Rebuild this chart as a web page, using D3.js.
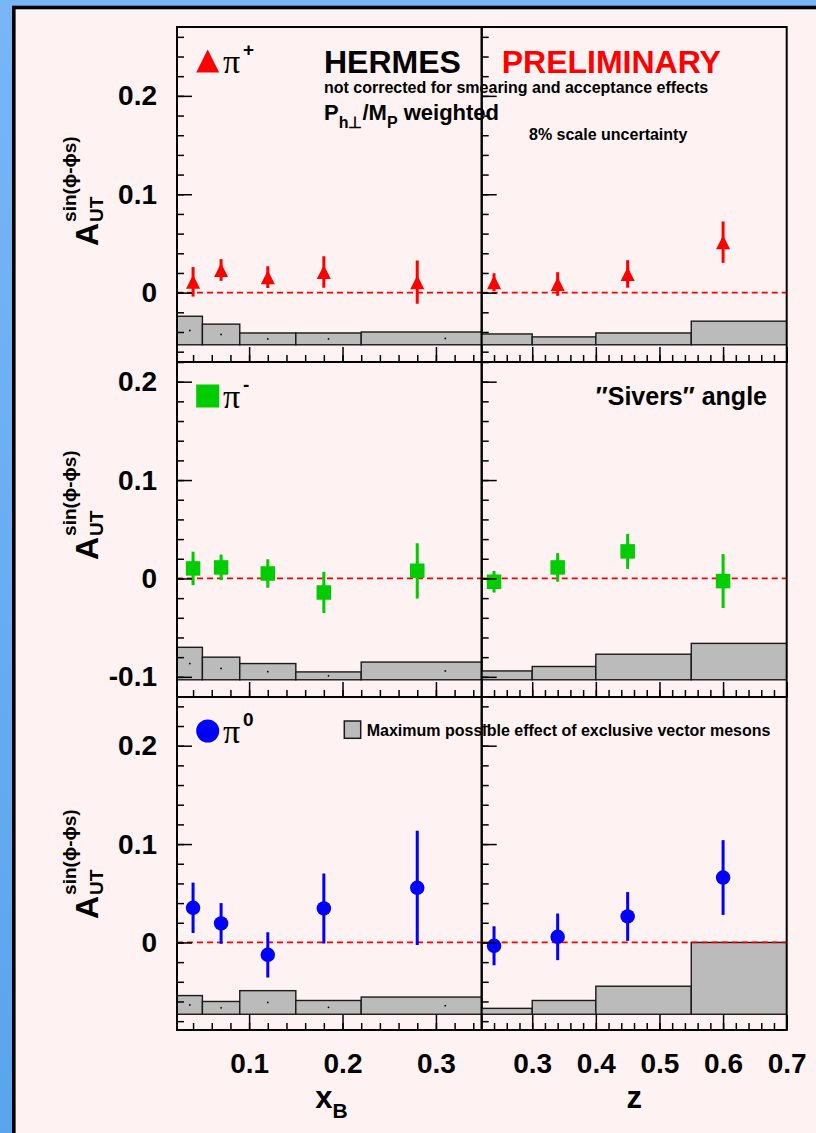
<!DOCTYPE html>
<html>
<head>
<meta charset="utf-8">
<script src="https://cdn.jsdelivr.net/npm/d3@7"></script>
<style>
  body { margin: 0; }
  svg { display: block; }
  text { font-family: "Liberation Sans", Arial, sans-serif; font-weight: bold; }
</style>
</head>
<body>
<div id="chart"></div>
<script>
// ---- data ----
const xbPoints = [0.04, 0.07, 0.12, 0.18, 0.28];
const zPoints = [0.24, 0.34, 0.45, 0.60];

const piPlusXb = [0.011, 0.023, 0.0157, 0.021, 0.0106];
const piPlusXbErr = [0.015, 0.011, 0.011, 0.016, 0.022];
const piPlusZ = [0.0106, 0.0088, 0.019, 0.0513];
const piPlusZErr = [0.009, 0.012, 0.014, 0.021];

const piMinusXb = [0.0102, 0.0112, 0.0051, -0.0142, 0.0077];
const piMinusXbErr = [0.017, 0.013, 0.0145, 0.021, 0.028];
const piMinusZ = [-0.0034, 0.0112, 0.0275, -0.0027];
const piMinusZErr = [0.011, 0.0145, 0.0178, 0.0274];

const piZeroXb = [0.0352, 0.0193, -0.0126, 0.0346, 0.0555];
const piZeroXbErr = [0.0256, 0.0207, 0.023, 0.0356, 0.058];
const piZeroZ = [-0.0034, 0.0057, 0.0264, 0.066];
const piZeroZErr = [0.0198, 0.0237, 0.0248, 0.038];

// vector meson band (bin edges and top of each bin, drawn from a base value)
const xbEdges = [0.023, 0.05, 0.09, 0.15, 0.22, 0.4];
const zEdges = [0.2, 0.3, 0.4, 0.55, 0.7];
const vmPiPlusXb = [-0.024, -0.032, -0.041, -0.041, -0.040];
const vmPiPlusZ = [-0.042, -0.045, -0.041, -0.029];
const vmPiMinusXb = [-0.070, -0.080, -0.0865, -0.095, -0.085];
const vmPiMinusZ = [-0.094, -0.0895, -0.077, -0.066];
const vmPiZeroXb = [-0.054, -0.060, -0.049, -0.059, -0.0555];
const vmPiZeroZ = [-0.067, -0.059, -0.0445, 0.0];
const vmBase = [-0.053, -0.103, -0.073];

// axes
const xbDomain = [0.0228, 0.349];
const zDomain = [0.2206, 0.7];
const yDomains = [[-0.0705, 0.27], [-0.1205, 0.22], [-0.089, 0.2495]];
const xbTicks = [0.1, 0.2, 0.3];
const zTicks = [0.3, 0.4, 0.5, 0.6, 0.7];
const yTicks = [[0, 0.1, 0.2], [-0.1, 0, 0.1, 0.2], [0, 0.1, 0.2]];

// ---- layout ----
const W = 816, H = 1133;
const frameX = [177, 481.7, 786.7];
const frameY = [27, 362, 697, 1030];
const titleBottom = [246, 560, 919];

const rows = [
  { sign: "+", marker: "triangle", color: "#ff0000",
    left: { v: piPlusXb, e: piPlusXbErr, vm: vmPiPlusXb },
    right: { v: piPlusZ, e: piPlusZErr, vm: vmPiPlusZ } },
  { sign: "-", marker: "square", color: "#00cc00",
    left: { v: piMinusXb, e: piMinusXbErr, vm: vmPiMinusXb },
    right: { v: piMinusZ, e: piMinusZErr, vm: vmPiMinusZ } },
  { sign: "0", marker: "circle", color: "#0000ff",
    left: { v: piZeroXb, e: piZeroXbErr, vm: vmPiZeroXb },
    right: { v: piZeroZ, e: piZeroZErr, vm: vmPiZeroZ } }
];

const svg = d3.select("#chart").append("svg")
  .attr("width", W).attr("height", H);

// background: blue slide edge + pink page
const defs = svg.append("defs");
const grad = defs.append("linearGradient").attr("id", "blue")
  .attr("x1", 0).attr("y1", 0).attr("x2", 0).attr("y2", 1);
grad.append("stop").attr("offset", "0%").attr("stop-color", "#78b6f6");
grad.append("stop").attr("offset", "100%").attr("stop-color", "#5aa4ee");
svg.append("rect").attr("width", W).attr("height", H).attr("fill", "url(#blue)");
svg.append("rect").attr("x", 13.8).attr("y", 7.5).attr("width", W).attr("height", H)
  .attr("fill", "#fff2f2").attr("stroke", "#000").attr("stroke-width", 3.6);

const xb = d3.scaleLinear().domain(xbDomain).range([frameX[0], frameX[1]]);
const xz = d3.scaleLinear().domain(zDomain).range([frameX[1], frameX[2]]);

function markerPath(type, s) {
  if (type === "triangle") return `M0,${-s / 2}L${s / 2},${s / 2}L${-s / 2},${s / 2}Z`;
  if (type === "square") return `M${-s / 2},${-s / 2}h${s}v${s}h${-s}Z`;
  const r = s / 2;
  return `M${r},0A${r},${r} 0 1,1 ${-r},0A${r},${r} 0 1,1 ${r},0Z`;
}

function minorTicks(domain, step) {
  const out = [];
  for (let i = Math.ceil(domain[0] / step - 1e-6); i * step <= domain[1] + 1e-6; i++) {
    out.push(+(i * step).toFixed(3));
  }
  return out;
}

const fmt = d => d === 0 ? "0" : d.toFixed(1);

rows.forEach((row, r) => {
  const y = d3.scaleLinear().domain(yDomains[r]).range([frameY[r + 1], frameY[r]]);
  const base = vmBase[r];

  [
    { x: xb, pts: xbPoints, edges: xbEdges, d: row.left, dots: true, x0: frameX[0], x1: frameX[1], ticks: xbTicks },
    { x: xz, pts: zPoints, edges: zEdges, d: row.right, dots: false, x0: frameX[1], x1: frameX[2], ticks: zTicks }
  ].forEach((p, k) => {
    const clipId = `clip${r}${k}`;
    defs.append("clipPath").attr("id", clipId).append("rect")
      .attr("x", p.x0).attr("y", frameY[r])
      .attr("width", p.x1 - p.x0).attr("height", frameY[r + 1] - frameY[r]);
    const g = svg.append("g").attr("clip-path", `url(#${clipId})`);

    // vector meson histogram
    const bins = p.d.vm.map((top, i) => ({ a: p.edges[i], b: p.edges[i + 1], top }));
    g.selectAll(".vm").data(bins).enter().append("rect")
      .attr("x", d => p.x(d.a))
      .attr("width", d => p.x(d.b) - p.x(d.a))
      .attr("y", d => y(d.top))
      .attr("height", d => y(base) - y(d.top))
      .attr("fill", "#bbbbbb").attr("stroke", "#1a1a1a").attr("stroke-width", 1.4);
    if (p.dots) {
      g.selectAll(".dot").data(bins).enter().append("circle")
        .attr("cx", d => p.x((d.a + d.b) / 2))
        .attr("cy", d => y((d.top + base) / 2))
        .attr("r", 0.9).attr("fill", "#000");
    }

    // zero line
    g.append("line")
      .attr("x1", p.x0).attr("x2", p.x1)
      .attr("y1", y(0)).attr("y2", y(0))
      .attr("stroke", "#ff0000").attr("stroke-width", 1.8)
      .attr("stroke-dasharray", "6,4");

    // data
    const pts = p.pts.map((xv, i) => ({ x: xv, v: p.d.v[i], e: p.d.e[i] }));
    g.selectAll(".err").data(pts).enter().append("line")
      .attr("x1", d => p.x(d.x)).attr("x2", d => p.x(d.x))
      .attr("y1", d => y(d.v - d.e)).attr("y2", d => y(d.v + d.e))
      .attr("stroke", row.color).attr("stroke-width", 3);
    g.selectAll(".mk").data(pts).enter().append("path")
      .attr("transform", d => `translate(${p.x(d.x)},${y(d.v)})`)
      .attr("d", markerPath(row.marker, row.marker === "triangle" ? 14 : 14.5))
      .attr("fill", row.color);

    // frame
    svg.append("rect")
      .attr("x", p.x0).attr("y", frameY[r])
      .attr("width", p.x1 - p.x0).attr("height", frameY[r + 1] - frameY[r])
      .attr("fill", "none").attr("stroke", "#000").attr("stroke-width", 2);

    // y axis ticks (inside)
    const yMinor = minorTicks(yDomains[r], 0.02);
    const ay1 = svg.append("g").attr("transform", `translate(${p.x0},0)`)
      .call(d3.axisLeft(y).tickValues(yMinor).tickSize(-7).tickFormat(""));
    const ay2 = svg.append("g").attr("transform", `translate(${p.x0},0)`)
      .call(d3.axisLeft(y).tickValues(yTicks[r]).tickSize(-15).tickPadding(20)
        .tickFormat(k === 0 ? fmt : ""));
    [ay1, ay2].forEach(a => {
      a.select(".domain").remove();
      a.selectAll("line").attr("stroke-width", 1.5);
      a.attr("font-size", 28).attr("font-family", null).attr("fill", "#000");
    });

    // x axis ticks (inside, at bottom)
    const xMinor = minorTicks(p.x.domain(), 0.02);
    const ax1 = svg.append("g").attr("transform", `translate(0,${frameY[r + 1]})`)
      .call(d3.axisBottom(p.x).tickValues(xMinor).tickSize(-7).tickFormat(""));
    const ax2 = svg.append("g").attr("transform", `translate(0,${frameY[r + 1]})`)
      .call(d3.axisBottom(p.x).tickValues(p.ticks).tickSize(-15).tickPadding(23)
        .tickFormat(r === 2 ? fmt : ""));
    [ax1, ax2].forEach(a => {
      a.select(".domain").remove();
      a.selectAll("line").attr("stroke-width", 1.5);
      a.attr("font-size", 28).attr("font-family", null).attr("fill", "#000");
    });
  });

  // legend marker + pi label
  svg.append("path")
    .attr("transform", `translate(${frameX[0] + 30.7},${frameY[r] + 34})`)
    .attr("d", markerPath(row.marker, 23))
    .attr("fill", row.color);
  svg.append("text").attr("x", 223).attr("y", frameY[r] + 46)
    .style("font-family", "'Liberation Serif', 'DejaVu Serif', serif")
    .style("font-weight", "normal")
    .attr("font-size", 34).text("π");
  svg.append("text").attr("x", 243).attr("y", frameY[r] + 29)
    .attr("font-size", 19).text(row.sign);

  // y axis title: A_UT^{sin(phi-phi_S)}
  const t = svg.append("g").attr("transform", `translate(98,${titleBottom[r]}) rotate(-90)`);
  const a = t.append("text").attr("x", 0).attr("y", 0).attr("font-size", 32).text("A");
  const wA = a.node().getComputedTextLength();
  t.append("text").attr("x", wA + 1).attr("y", 5).attr("font-size", 19).text("UT");
  t.append("text").attr("x", wA + 1).attr("y", -22).attr("font-size", 19).text("sin(ϕ-ϕs)");
});

// x axis titles
const xt = svg.append("text").attr("x", (frameX[0] + frameX[1]) / 2 - 14).attr("y", 1108)
  .attr("font-size", 31);
xt.append("tspan").text("x");
xt.append("tspan").attr("dy", 10).attr("font-size", 21).text("B");
svg.append("text").attr("x", (frameX[1] + frameX[2]) / 2).attr("y", 1108)
  .attr("text-anchor", "middle").attr("font-size", 31).text("z");

// annotations
svg.append("text").attr("x", 324).attr("y", 73.3).attr("font-size", 32).text("HERMES");
svg.append("text").attr("x", 501.7).attr("y", 72.7).attr("font-size", 32)
  .attr("fill", "#ff0000").text("PRELIMINARY");
svg.append("text").attr("x", 324).attr("y", 93.3).attr("font-size", 16)
  .text("not corrected for smearing and acceptance effects");
const ph = svg.append("text").attr("x", 324).attr("y", 120).attr("font-size", 22);
ph.append("tspan").text("P");
ph.append("tspan").attr("dy", 8).attr("font-size", 16).text("h⊥");
ph.append("tspan").attr("dy", -8).text("/M");
ph.append("tspan").attr("dy", 8).attr("font-size", 16).text("P");
ph.append("tspan").attr("dy", -8).text(" weighted");
svg.append("text").attr("x", 529).attr("y", 140).attr("font-size", 16)
  .text("8% scale uncertainty");
svg.append("text").attr("x", 767).attr("y", 405).attr("font-size", 25)
  .attr("text-anchor", "end").text("″Sivers″ angle");

// vector meson legend
svg.append("rect").attr("x", 344.3).attr("y", 721).attr("width", 16.4).attr("height", 17.3)
  .attr("fill", "#bbbbbb").attr("stroke", "#1a1a1a").attr("stroke-width", 1.5);
svg.append("text").attr("x", 366.7).attr("y", 735.7).attr("font-size", 16)
  .text("Maximum possible effect of exclusive vector mesons");
</script>
</body>
</html>
